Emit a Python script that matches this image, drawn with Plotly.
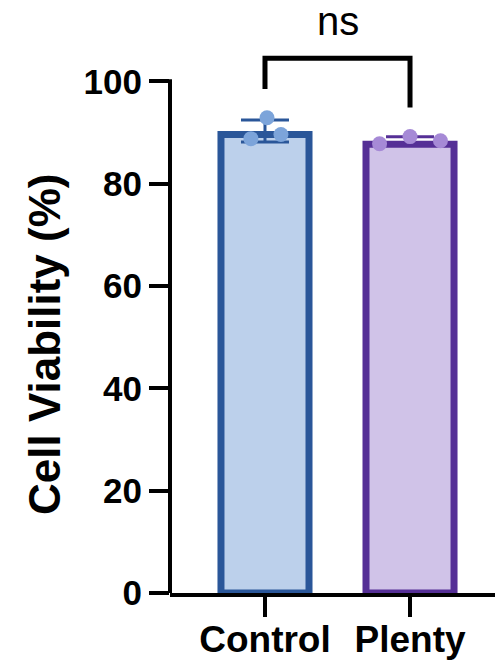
import plotly.graph_objects as go

# ---- data ----
groups = ["Control", "Plenty"]
bar_means = [90.3, 88.4]
bar_sd = [2.15, 0.75]
control_points = [92.9, 88.8, 89.6]
plenty_points = [87.8, 89.2, 88.4]
control_jitter = [0.014, -0.097, 0.11]
plenty_jitter = [-0.21, 0.0, 0.21]
y_ticks = [0, 20, 40, 60, 80, 100]
bracket_y = [98.5, 104.5, 104.5, 94.9]
sig_label = "ns"

fill_colors = ["#BCD0EB", "#D0C3E8"]
line_colors = ["#2A5699", "#552F96"]
point_colors = ["#7CA4DA", "#A68AD6"]

FONT = "Liberation Sans, Arial, sans-serif"

# layout geometry (pixels)
W, H = 495, 662
M_L, M_R, M_T, M_B = 170, 0, 0, 69
Y_MAX = 115.9
PX_PER_UNIT = (H - M_T - M_B) / Y_MAX
BORDER = 7

fig = go.Figure()

# bars: border drawn inside the bar outline, so lower the geometric top by half a border
for i, g in enumerate(groups):
    fig.add_trace(go.Bar(
        x=[i], y=[bar_means[i] - (BORDER / 2) / PX_PER_UNIT], width=0.607,
        marker=dict(color=fill_colors[i], line=dict(color=line_colors[i], width=BORDER)),
        showlegend=False, hoverinfo="skip",
    ))

# error bars (mean ± SD)
for i, g in enumerate(groups):
    fig.add_trace(go.Scatter(
        x=[i], y=[bar_means[i]], mode="markers",
        marker=dict(color=line_colors[i], size=2),
        error_y=dict(type="data", array=[bar_sd[i]], visible=True,
                     color=line_colors[i], thickness=3, width=24),
        showlegend=False, hoverinfo="skip",
    ))

pts = [control_points, plenty_points]
jit = [control_jitter, plenty_jitter]
for i, g in enumerate(groups):
    fig.add_trace(go.Scatter(
        x=[i + j for j in jit[i]], y=pts[i], mode="markers",
        marker=dict(color=point_colors[i], size=15, line=dict(width=0)),
        showlegend=False, hoverinfo="skip", cliponaxis=False,
    ))

# significance bracket
fig.add_trace(go.Scatter(
    x=[0, 0, 1, 1], y=bracket_y, mode="lines",
    line=dict(color="black", width=5), showlegend=False, hoverinfo="skip",
))

fig.add_annotation(x=0.5, y=111.8, xref="x", yref="y", text=sig_label,
                   showarrow=False, font=dict(family=FONT, size=40, color="black"),
                   xanchor="center", yanchor="middle")

# y axis title
fig.add_annotation(x=-0.384, y=48.7, xref="paper", yref="y",
                   text="<b>Cell Viability (%)</b>", textangle=-90, showarrow=False,
                   font=dict(family=FONT, size=44, color="black"),
                   xanchor="center", yanchor="middle")

# visible y axis line from 0 to 100
fig.add_shape(type="line", xref="paper", yref="y", x0=0, x1=0, y0=-0.4, y1=100.4,
              line=dict(color="black", width=4))

fig.update_layout(
    width=W, height=H,
    margin=dict(l=M_L, r=M_R, t=M_T, b=M_B, pad=0, autoexpand=False),
    paper_bgcolor="white", plot_bgcolor="white",
    barmode="overlay",
    xaxis=dict(range=[-0.655, 1.586], tickvals=[0, 1], automargin=False,
               ticktext=["<b>%s</b>" % g for g in groups],
               showline=True, linecolor="black", linewidth=4,
               ticks="outside", ticklen=20, tickwidth=4, tickcolor="black",
               ticklabelstandoff=-9,
               showgrid=False, zeroline=False,
               tickfont=dict(family=FONT, size=37, color="black")),
    yaxis=dict(range=[0, Y_MAX], tickvals=y_ticks, automargin=False,
               ticktext=["<b>%d</b>" % v for v in y_ticks],
               showline=False, ticks="outside", ticklen=20, tickwidth=4,
               tickcolor="black", showgrid=False, zeroline=False,
               tickfont=dict(family=FONT, size=35, color="black")),
)

fig.write_html("out.html", config={"displayModeBar": False},
               post_script="document.body.style.margin='0';document.body.style.overflow='hidden';")
